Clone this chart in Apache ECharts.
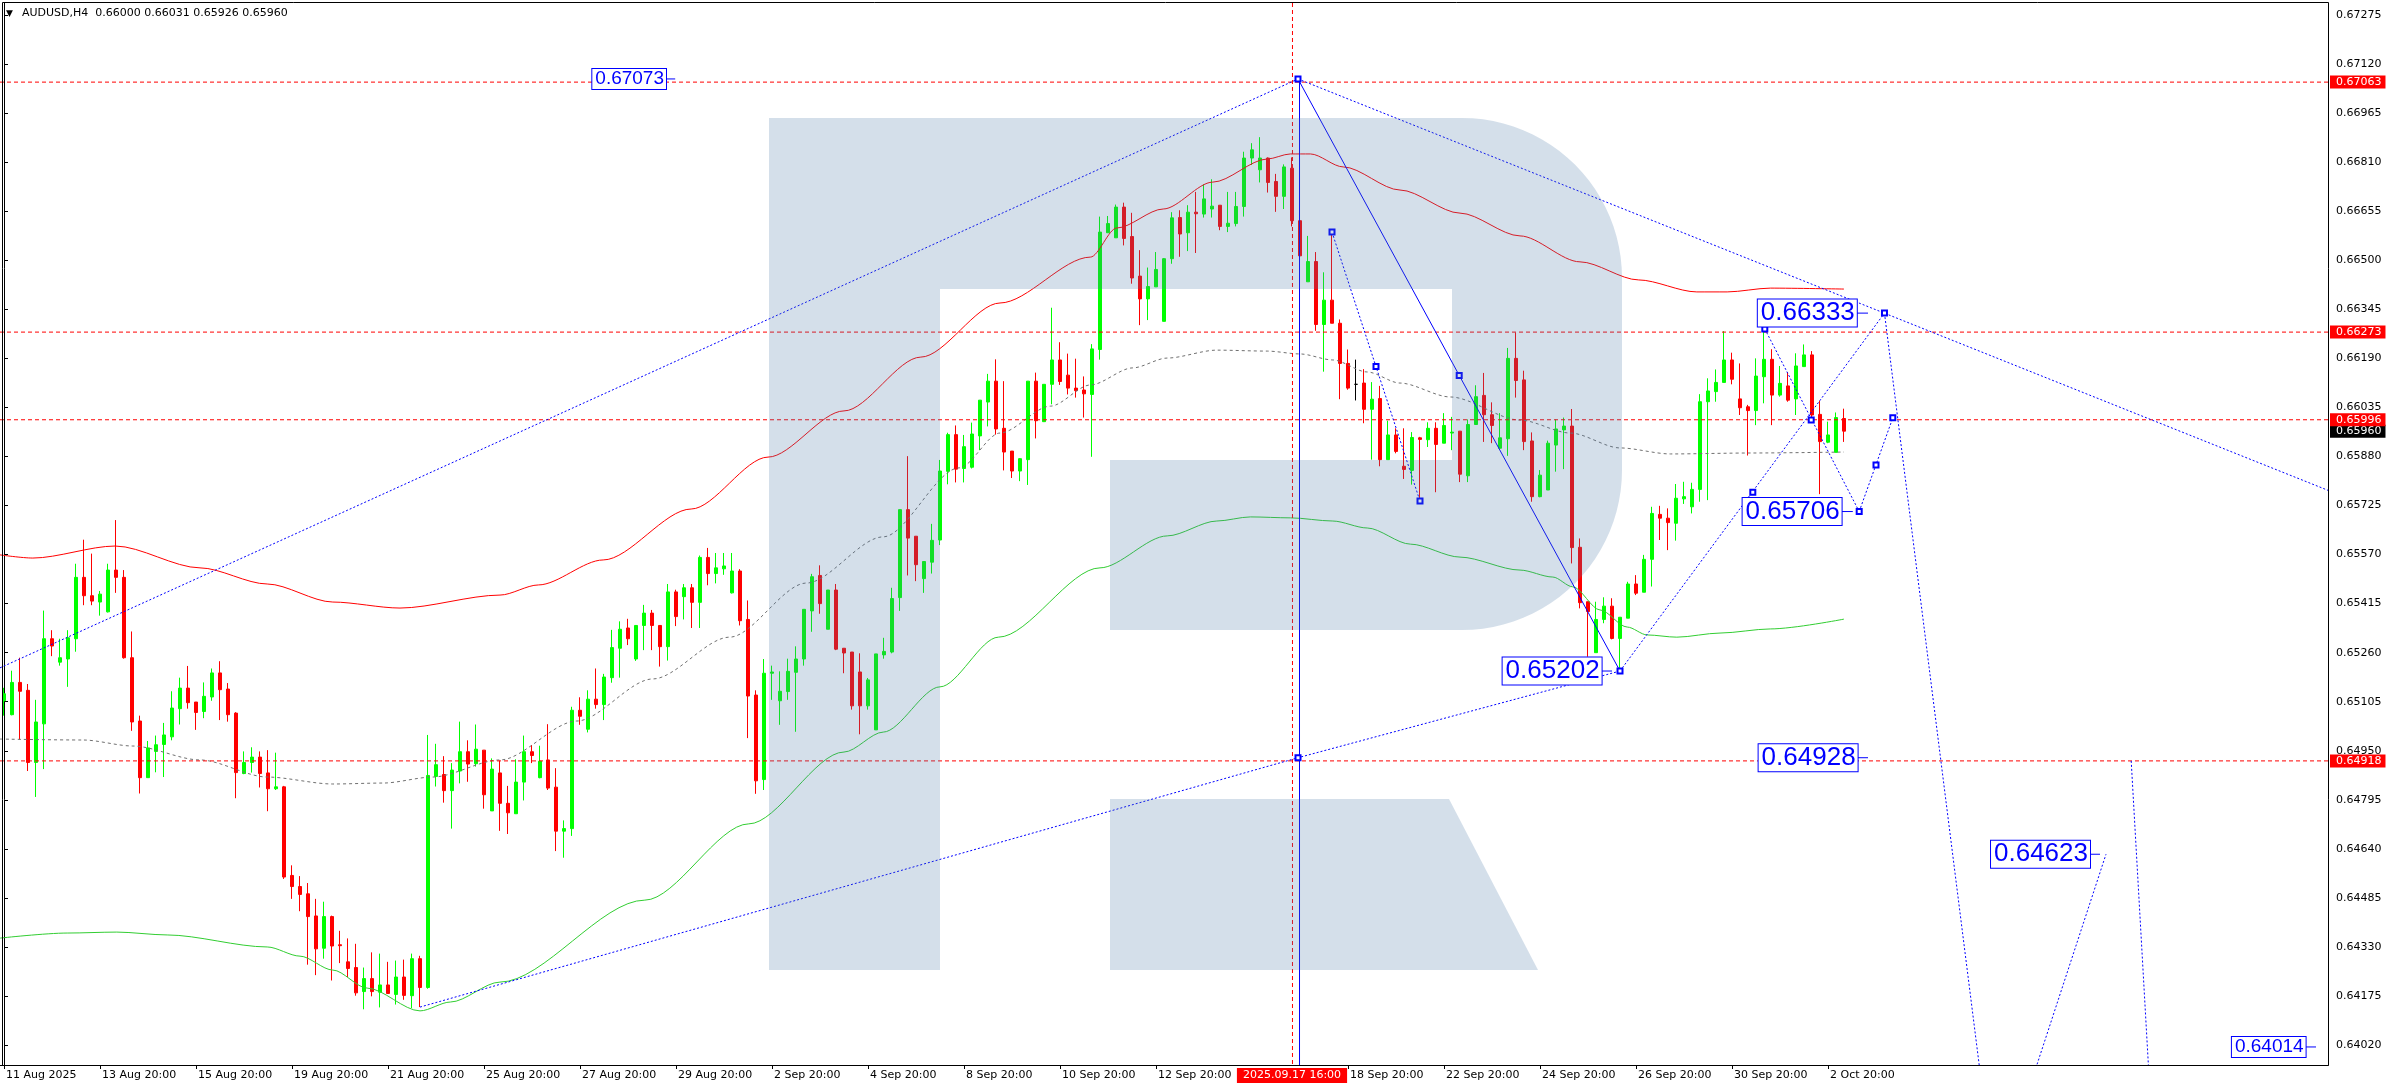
<!DOCTYPE html>
<html><head><meta charset="utf-8">
<script src="https://cdn.jsdelivr.net/npm/echarts@6/dist/echarts.min.js"></script>
<style>html,body{margin:0;padding:0;background:#fff;}#c{width:2392px;height:1090px;}</style>
</head><body><div id="c"></div>
<script>
// ---------- DATA ----------
const symbolTitle = 'AUDUSD,H4';
const headerValues = ['0.66000', '0.66031', '0.65926', '0.65960'];
// [open, close, low, high] per H4 bar, from 11 Aug 2025 20:00
const ohlc = [
[0.65108,0.65130,0.65061,0.65149],[0.65064,0.65166,0.65062,0.65203],[0.65166,0.65138,0.64985,0.65244],[0.65141,0.64913,0.64886,0.65161],
[0.64913,0.65041,0.64804,0.65111],[0.65035,0.65304,0.64892,0.65393],[0.65304,0.65281,0.65249,0.65331],[0.65230,0.65244,0.65219,0.65304],
[0.65240,0.65307,0.65152,0.65331],[0.65304,0.65498,0.65263,0.65541],[0.65498,0.65440,0.65410,0.65617],[0.65440,0.65423,0.65410,0.65573],
[0.65420,0.65445,0.65377,0.65455],[0.65389,0.65521,0.65387,0.65541],[0.65521,0.65498,0.65449,0.65679],[0.65498,0.65244,0.65241,0.65521],
[0.65244,0.65041,0.65013,0.65327],[0.65044,0.64865,0.64815,0.65061],[0.64865,0.64959,0.64865,0.64981],[0.64948,0.64969,0.64882,0.64998],
[0.64970,0.65000,0.64867,0.65038],[0.64994,0.65085,0.64983,0.65138],[0.65083,0.65148,0.65033,0.65181],[0.65148,0.65102,0.65083,0.65218],
[0.65104,0.65071,0.65016,0.65104],[0.65074,0.65122,0.65053,0.65166],[0.65120,0.65196,0.65108,0.65210],[0.65196,0.65143,0.65047,0.65233],
[0.65145,0.65064,0.65042,0.65164],[0.65069,0.64881,0.64800,0.65072],[0.64878,0.64913,0.64876,0.64948],[0.64913,0.64930,0.64881,0.64961],
[0.64930,0.64878,0.64834,0.64948],[0.64880,0.64830,0.64759,0.64952],[0.64830,0.64836,0.64826,0.64944],[0.64836,0.64551,0.64545,0.64839],
[0.64556,0.64521,0.64482,0.64588],[0.64521,0.64496,0.64443,0.64554],[0.64498,0.64426,0.64274,0.64532],[0.64428,0.64324,0.64241,0.64482],
[0.64326,0.64426,0.64293,0.64473],[0.64426,0.64333,0.64224,0.64429],[0.64337,0.64334,0.64279,0.64381],[0.64283,0.64262,0.64235,0.64357],
[0.64265,0.64185,0.64176,0.64340],[0.64189,0.64230,0.64133,0.64265],[0.64230,0.64189,0.64174,0.64313],[0.64187,0.64210,0.64139,0.64309],
[0.64210,0.64183,0.64183,0.64283],[0.64180,0.64235,0.64148,0.64287],[0.64235,0.64177,0.64163,0.64290],[0.64176,0.64293,0.64137,0.64309],
[0.64293,0.64202,0.64140,0.64302],[0.64202,0.64872,0.64198,0.65000],[0.64869,0.64906,0.64837,0.64972],[0.64875,0.64824,0.64786,0.64933],
[0.64824,0.64889,0.64704,0.64911],[0.64886,0.64947,0.64847,0.65042],[0.64947,0.64908,0.64852,0.64983],[0.64909,0.64955,0.64900,0.65033],
[0.64952,0.64811,0.64767,0.64952],[0.64760,0.64892,0.64760,0.64926],[0.64880,0.64784,0.64697,0.64919],[0.64784,0.64754,0.64687,0.64839],
[0.64751,0.64851,0.64751,0.64923],[0.64851,0.64947,0.64793,0.64998],[0.64947,0.64935,0.64911,0.64968],[0.64865,0.64917,0.64863,0.64966],
[0.64921,0.64832,0.64826,0.65034],[0.64835,0.64696,0.64633,0.64895],[0.64696,0.64704,0.64612,0.64730],[0.64704,0.65078,0.64681,0.65089],
[0.65078,0.65059,0.65032,0.65119],[0.65018,0.65113,0.65008,0.65141],[0.65113,0.65096,0.65083,0.65210],[0.65096,0.65183,0.65047,0.65193],
[0.65181,0.65276,0.65165,0.65332],[0.65274,0.65334,0.65181,0.65359],[0.65338,0.65304,0.65284,0.65367],[0.65240,0.65346,0.65234,0.65346],
[0.65346,0.65385,0.65268,0.65411],[0.65385,0.65346,0.65268,0.65395],[0.65346,0.65279,0.65216,0.65346],[0.65279,0.65452,0.65235,0.65477],
[0.65452,0.65374,0.65344,0.65459],[0.65437,0.65465,0.65365,0.65477],[0.65465,0.65419,0.65338,0.65477],[0.65419,0.65561,0.65338,0.65567],
[0.65561,0.65510,0.65473,0.65591],[0.65510,0.65528,0.65479,0.65575],[0.65525,0.65534,0.65506,0.65575],[0.65449,0.65518,0.65447,0.65575],
[0.65518,0.65361,0.65346,0.65524],[0.65365,0.65123,0.64990,0.65425],[0.65126,0.64855,0.64814,0.65141],[0.64859,0.65195,0.64826,0.65240],
[0.65195,0.65199,0.65111,0.65219],[0.65108,0.65138,0.65032,0.65201],[0.65137,0.65201,0.65111,0.65241],[0.65198,0.65240,0.65010,0.65280],
[0.65240,0.65397,0.65219,0.65397],[0.65392,0.65500,0.65326,0.65509],[0.65504,0.65415,0.65383,0.65536],[0.65334,0.65458,0.65334,0.65458],
[0.65458,0.65271,0.65268,0.65477],[0.65274,0.65259,0.65195,0.65274],[0.65262,0.65092,0.65080,0.65262],[0.65199,0.65092,0.65002,0.65258],
[0.65092,0.65174,0.65080,0.65180],[0.65016,0.65256,0.65016,0.65256],[0.65253,0.65264,0.65241,0.65307],[0.65262,0.65431,0.65258,0.65465],
[0.65434,0.65712,0.65392,0.65712],[0.65712,0.65622,0.65504,0.65881],[0.65628,0.65538,0.65486,0.65628],[0.65494,0.65548,0.65449,0.65548],
[0.65546,0.65615,0.65510,0.65667],[0.65616,0.65834,0.65600,0.65869],[0.65833,0.65949,0.65792,0.65955],[0.65949,0.65840,0.65798,0.65978],
[0.65842,0.65911,0.65798,0.65948],[0.65846,0.65951,0.65842,0.65987],[0.65945,0.66058,0.65900,0.66058],[0.66052,0.66118,0.65975,0.66141],
[0.66118,0.65967,0.65949,0.66187],[0.65969,0.65894,0.65836,0.66118],[0.65897,0.65834,0.65812,0.65897],[0.65834,0.65873,0.65802,0.65875],
[0.65870,0.66118,0.65790,0.66118],[0.66118,0.65993,0.65937,0.66145],[0.65990,0.66108,0.65990,0.66108],[0.66108,0.66185,0.66045,0.66350],
[0.66185,0.66117,0.66106,0.66241],[0.66137,0.66096,0.66076,0.66205],[0.66096,0.66088,0.66066,0.66189],[0.66090,0.66078,0.66003,0.66133],
[0.66076,0.66220,0.65879,0.66235],[0.66218,0.66589,0.66186,0.66638],[0.66587,0.66616,0.66587,0.66640],[0.66571,0.66668,0.66571,0.66676],
[0.66668,0.66569,0.66547,0.66682],[0.66575,0.66444,0.66426,0.66650],[0.66450,0.66378,0.66295,0.66532],[0.66378,0.66417,0.66311,0.66477],
[0.66416,0.66471,0.66416,0.66526],[0.66307,0.66505,0.66307,0.66507],[0.66505,0.66634,0.66489,0.66652],[0.66635,0.66583,0.66511,0.66658],
[0.66587,0.66652,0.66529,0.66674],[0.66652,0.66647,0.66523,0.66716],[0.66646,0.66694,0.66635,0.66740],[0.66662,0.66671,0.66635,0.66756],
[0.66674,0.66607,0.66595,0.66674],[0.66607,0.66617,0.66589,0.66716],[0.66616,0.66670,0.66607,0.66716],[0.66670,0.66823,0.66638,0.66843],
[0.66823,0.66849,0.66801,0.66870],[0.66786,0.66823,0.66746,0.66889],[0.66823,0.66746,0.66714,0.66825],[0.66749,0.66702,0.66653,0.66773],
[0.66702,0.66795,0.66662,0.66803],[0.66791,0.66625,0.66607,0.66825],[0.66625,0.66514,0.66514,0.66629],[0.66432,0.66496,0.66432,0.66577],
[0.66496,0.66297,0.66277,0.66526],[0.66297,0.66374,0.66148,0.66462],[0.66374,0.66301,0.66301,0.66587],[0.66301,0.66174,0.66061,0.66313],
[0.66174,0.66096,0.66091,0.66218],[0.66108,0.66108,0.66057,0.66186],[0.66112,0.66029,0.65985,0.66156],[0.66029,0.66061,0.65870,0.66115],
[0.66063,0.65870,0.65849,0.66103],[0.65870,0.65948,0.65870,0.65993],[0.65948,0.65896,0.65890,0.65969],[0.65849,0.65839,0.65809,0.65969],
[0.65836,0.65940,0.65791,0.65957],[0.65939,0.65934,0.65737,0.65942],[0.65933,0.65969,0.65910,0.65988],[0.65969,0.65918,0.65767,0.65988],
[0.65922,0.65978,0.65922,0.66017],[0.65954,0.65957,0.65900,0.66005],[0.65960,0.65824,0.65799,0.65960],[0.65819,0.65981,0.65799,0.65997],
[0.65981,0.66069,0.65981,0.66105],[0.66073,0.66012,0.65926,0.66144],[0.66012,0.65978,0.65922,0.66051],[0.65906,0.65939,0.65906,0.66017],
[0.65936,0.66190,0.65882,0.66223],[0.66190,0.66120,0.66066,0.66272],[0.66122,0.65927,0.65900,0.66151],[0.65929,0.65753,0.65737,0.65956],
[0.65753,0.65821,0.65751,0.65837],[0.65774,0.65922,0.65774,0.65930],[0.65916,0.65967,0.65832,0.65997],[0.65964,0.65976,0.65840,0.66003],
[0.65976,0.65592,0.65542,0.66030],[0.65593,0.65418,0.65400,0.65621],[0.65421,0.65390,0.65247,0.65421],[0.65260,0.65365,0.65260,0.65421],
[0.65365,0.65407,0.65353,0.65435],[0.65407,0.65305,0.65302,0.65432],[0.65305,0.65372,0.65205,0.65372],[0.65369,0.65477,0.65369,0.65484],
[0.65477,0.65448,0.65442,0.65505],[0.65451,0.65555,0.65451,0.65569],[0.65555,0.65700,0.65469,0.65721],[0.65697,0.65685,0.65616,0.65724],
[0.65685,0.65671,0.65584,0.65716],[0.65669,0.65748,0.65614,0.65793],[0.65746,0.65753,0.65730,0.65800],[0.65721,0.65776,0.65700,0.65797],
[0.65776,0.66053,0.65737,0.66077],[0.66053,0.66087,0.65742,0.66127],[0.66085,0.66114,0.66053,0.66155],[0.66114,0.66185,0.66114,0.66276],
[0.66185,0.66124,0.66108,0.66208],[0.66062,0.66034,0.66011,0.66174],[0.66037,0.66025,0.65883,0.66043],[0.66025,0.66134,0.65979,0.66190],
[0.66132,0.66187,0.66048,0.66280],[0.66187,0.66074,0.65979,0.66219],[0.66074,0.66111,0.66069,0.66166],[0.66103,0.66058,0.66053,0.66146],
[0.66062,0.66166,0.66011,0.66206],[0.66164,0.66201,0.66164,0.66234],[0.66201,0.66011,0.66004,0.66213],[0.66013,0.65927,0.65761,0.66056],
[0.65925,0.65948,0.65922,0.65990],[0.65893,0.66003,0.65893,0.66019],[0.66000,0.65960,0.65926,0.66031]
];
const dojiBars = [169];
const timeLabels = ['11 Aug 2025','13 Aug 20:00','15 Aug 20:00','19 Aug 20:00','21 Aug 20:00','25 Aug 20:00','27 Aug 20:00',
  '29 Aug 20:00','2 Sep 20:00','4 Sep 20:00','8 Sep 20:00','10 Sep 20:00','12 Sep 20:00','16 Sep 20:00','18 Sep 20:00',
  '22 Sep 20:00','24 Sep 20:00','26 Sep 20:00','30 Sep 20:00','2 Oct 20:00'];
const barsPerLabel = 12;
const totalSlots = 291;
const cursorBar = 161;
const cursorLabel = '2025.09.17 16:00';
const priceTicks = [0.67275,0.67120,0.66965,0.66810,0.66655,0.66500,0.66345,0.66190,0.66035,0.65880,0.65725,
  0.65570,0.65415,0.65260,0.65105,0.64950,0.64795,0.64640,0.64485,0.64330,0.64175,0.64020];
const levelLines = [0.67063, 0.66273, 0.65996, 0.64918];
const lastPrice = 0.65960;
const Y_MIN = 0.63957, Y_MAX = 0.67313;
// indicator curves [bar, price]
const redCurve = [[-0.5,0.65569],[3.6,0.65559],[13.9,0.65597],[24.5,0.65528],[32.9,0.65477],[41.1,0.65420],[49.5,0.65401],
  [62,0.65442],[66.8,0.65474],[74.9,0.65553],[85.9,0.65714],[95.5,0.65878],[105,0.66024],[114.6,0.66194],[124.5,0.66365],
  [135.8,0.66510],[139.1,0.66602],[144.9,0.66662],[151.1,0.66747],[157.9,0.66820],[160.8,0.66836],[163.3,0.66836],
  [167.4,0.66795],[174.5,0.66722],[182,0.66649],[189.5,0.66577],[197,0.66495],[204.3,0.66438],[211.6,0.66400],
  [215.4,0.66400],[220.8,0.66412],[230,0.66409]];
const greenCurve = [[-0.5,0.64358],[7.9,0.64374],[14.1,0.64377],[20.4,0.64368],[32.9,0.64330],[37,0.64301],[41.1,0.64257],
  [45.4,0.64200],[52,0.64128],[55.8,0.64156],[62,0.64219],[80.1,0.64478],[93.1,0.64719],[105,0.64946],[109.9,0.65009],
  [117,0.65152],[124.3,0.65309],[137,0.65528],[145.4,0.65629],[151.6,0.65676],[155.8,0.65689],[160.8,0.65686],
  [166.1,0.65676],[170.4,0.65654],[175.8,0.65603],[182,0.65562],[189.5,0.65521],[193.6,0.65499],[196.1,0.65468],
  [199.5,0.65395],[202.9,0.65341],[205.4,0.65316],[209.1,0.65309],[214.5,0.65322],[220.8,0.65335],[230,0.65366]];
const greyCurve = [[-0.5,0.64987],[9.9,0.64984],[16.1,0.64965],[24.5,0.64921],[32.9,0.64867],[41.1,0.64845],[47.4,0.64848],
  [53.6,0.64867],[62,0.64921],[71.6,0.65044],[81.1,0.65177],[90.7,0.65309],[100.3,0.65480],[109.9,0.65626],[119.4,0.65844],
  [124.5,0.65954],[130.8,0.66039],[135.8,0.66106],[141.1,0.66160],[145.4,0.66191],[151.6,0.66216],[157.9,0.66213],
  [162,0.66204],[166.1,0.66185],[170.4,0.66147],[174.5,0.66112],[180.8,0.66068],[189.5,0.65995],[195.8,0.65954],
  [202,0.65907],[208.3,0.65888],[218.6,0.65891],[230,0.65894]];
// drawn analysis lines [bar, price]
const peakBar = 161.94;
const cursorLineBar = 161.06;
const trendUpper = [[-0.5,0.65212],[161.75,0.67073]];
const trendLower = [[52,0.64140],[161.75,0.64928],[202,0.65202]];
const trendDown = [[161.75,0.67073],[290.5,0.65773]];
const swingSolid = [[161.75,0.67073],[202,0.65202]];
const swingSmall = [[166,0.66589],[177,0.65739]];
const fcUp = [[202,0.65202],[235.06,0.66333]];
const fcA = [[220.1,0.66283],[231.9,0.65706]];
const fcB = [[231.9,0.65706],[236.1,0.66002]];
const fcDrop = [[235.06,0.66333],[248.9,0.63556],[262.75,0.64623]];
const fcDrop2 = [[265.9,0.64918],[268.4,0.63800]];
const nodes = [[161.75,0.67073],[161.75,0.64928],[181.9,0.66136],[166,0.66589],[171.5,0.66164],[177,0.65739],
  [202,0.65202],[218.6,0.65767],[235.06,0.66333],[220.1,0.66283],[225.9,0.65995],[231.9,0.65706],[234,0.65853],[236.1,0.66002]];
const priceLabels = [0.67073, 0.66333, 0.65706, 0.65202, 0.64928, 0.64623, 0.64014];
const labelBoxRight = [82.75, 231.6, 229.7, 199.7, 231.7, 260.75, 287.7];
const labelTip = [83.9, 233.0, 231.1, 201.0, 233.0, 262.0, 289.0];

// ---------- BUILD ----------
const FONT = 'DejaVu Sans';
const cats = [];
for (let i = 0; i < totalSlots; i++) cats.push('');
timeLabels.forEach((t, k) => {
  const idx = k * barsPerLabel;
  const covered = idx >= cursorBar - 7 && idx < cursorBar + 7;
  if (!covered) cats[idx] = t;
});
const showIdx = (i) => cats[i] !== '';

const candleData = ohlc.map((d, i) => dojiBars.includes(i)
  ? {value: d, itemStyle: {color: '#000', color0: '#000', borderColor: '#000', borderColor0: '#000'}}
  : d);

const lineSeries = (data, color, type, opts) => Object.assign({
  type: 'line', xAxisIndex: 1, yAxisIndex: 0, data: data, symbol: 'none', silent: true,
  lineStyle: {color: color, width: 1, type: type, opacity: 1}, z: 3, animation: false
}, opts || {});

const series = [
  {type: 'candlestick', xAxisIndex: 0, yAxisIndex: 0, data: candleData, barWidth: 4, silent: true, z: 2,
   itemStyle: {color: '#00ff00', color0: '#ff0000', borderColor: '#00ff00', borderColor0: '#ff0000', borderWidth: 1}},
  lineSeries(redCurve, '#ff0000', 'solid', {smooth: 0.3, smoothMonotone: 'x'}),
  lineSeries(greenCurve, '#32cd32', 'solid', {smooth: 0.3, smoothMonotone: 'x'}),
  lineSeries(greyCurve, '#707070', [3, 3], {smooth: 0.3, smoothMonotone: 'x'})
];
levelLines.forEach(p => series.push(lineSeries([[-0.5, p], [totalSlots - 0.5, p]], '#ff0000', [4, 3])));
series.push(lineSeries([[cursorLineBar, Y_MAX], [cursorLineBar, Y_MIN]], '#ff0000', [4, 3]));
series.push(lineSeries([[peakBar, 0.67073], [peakBar, Y_MIN]], '#0000ff', 'solid'));
[trendUpper, trendLower, trendDown, swingSmall, fcUp, fcA, fcB, fcDrop, fcDrop2].forEach(d =>
  series.push(lineSeries(d, '#0000ff', [2, 2])));
series.push(lineSeries(swingSolid, '#0000ff', 'solid'));
priceLabels.forEach((p, i) => series.push(lineSeries([[labelBoxRight[i], p], [labelTip[i], p]], '#0000ff', 'solid')));
series.push({type: 'scatter', xAxisIndex: 1, yAxisIndex: 0, data: nodes, symbol: 'emptyRect', symbolSize: 5,
  itemStyle: {color: '#0000ff', borderWidth: 1, opacity: 1}, silent: true, z: 4});
series.push({type: 'scatter', xAxisIndex: 1, yAxisIndex: 0, symbolSize: 0, silent: true, z: 5,
  itemStyle: {opacity: 1},
  data: priceLabels.map((p, i) => ({value: [labelBoxRight[i], p],
    label: {fontSize: (i === 0 || i === priceLabels.length - 1) ? 19 : 26}})),
  label: {show: true, position: 'left', distance: 0, formatter: (pr) => pr.value[1].toFixed(5), opacity: 1,
    color: '#0000ff', fontFamily: 'Liberation Sans', borderColor: '#0000ff', borderWidth: 1,
    backgroundColor: '#ffffff', padding: [1, 2, 0, 3]}});

// watermark logo (decoration)
function arcPts(cx, cy, r, a0, a1, n) {
  const pts = [];
  for (let k = 0; k <= n; k++) { const a = a0 + (a1 - a0) * k / n; pts.push([cx + r * Math.cos(a), cy + r * Math.sin(a)]); }
  return pts;
}
const logoMain = [[769,118]].concat(arcPts(1462,278,160,-Math.PI/2,0,24), arcPts(1462,470,160,0,Math.PI/2,24),
  [[1110,630],[1110,460],[1452,460],[1452,289],[940,289],[940,970],[769,970]]);
const logoLeg = [[1110,799],[1449,799],[1538,970],[1110,970]];
const shade = 'rgba(76,122,168,0.24)';

const chart = echarts.init(document.getElementById('c'), null, {renderer: 'canvas'});
chart.setOption({
  animation: false,
  backgroundColor: '#ffffff',
  grid: {left: 0, top: 3, width: 2328, height: 1062, containLabel: false, outerBoundsMode: 'none', show: false},
  xAxis: [
    {type: 'category', data: cats, position: 'bottom', boundaryGap: true,
     axisLine: {show: true, lineStyle: {color: '#000', width: 1}},
     axisTick: {show: true, alignWithLabel: true, interval: showIdx, length: 4, lineStyle: {color: '#000'}},
     axisLabel: {interval: showIdx, align: 'left', color: '#000', fontFamily: FONT, fontSize: 11, margin: 5, padding: [0,0,0,2], hideOverlap: false},
     splitLine: {show: false}},
    {type: 'value', min: -0.5, max: totalSlots - 0.5, position: 'bottom', z: 10,
     axisLine: {show: false}, axisTick: {show: false}, splitLine: {show: false},
     axisLabel: {customValues: [cursorBar], formatter: () => cursorLabel, color: '#ffffff', backgroundColor: '#ff0000',
       padding: [2, 6, 2, 6], fontFamily: FONT, fontSize: 11, margin: 3, hideOverlap: false}}
  ],
  yAxis: [
    {type: 'value', position: 'right', min: Y_MIN, max: Y_MAX, splitLine: {show: false},
     axisLine: {show: true, lineStyle: {color: '#000'}},
     axisTick: {show: true, customValues: priceTicks, length: 4, lineStyle: {color: '#000'}},
     axisLabel: {customValues: priceTicks, formatter: v => v.toFixed(5), color: '#000', fontFamily: FONT, fontSize: 11, margin: 8, hideOverlap: false}},
    {type: 'value', position: 'right', min: Y_MIN, max: Y_MAX, splitLine: {show: false}, z: 10,
     axisLine: {show: false}, axisTick: {show: false},
     axisLabel: {customValues: [lastPrice].concat(levelLines), hideOverlap: false, margin: 2,
       formatter: v => (v === lastPrice ? '{b|' : '{r|') + v.toFixed(5) + '}',
       rich: {
         r: {backgroundColor: '#ff0000', color: '#ffffff', fontFamily: FONT, fontSize: 11, padding: [1, 4, 1, 6]},
         b: {backgroundColor: '#000000', color: '#ffffff', fontFamily: FONT, fontSize: 11, padding: [1, 4, 1, 6]}
       }}}
  ],
  series: series,
  graphic: [
    {type: 'polygon', shape: {points: logoMain}, style: {fill: shade}, z: 100, silent: true},
    {type: 'polygon', shape: {points: logoLeg}, style: {fill: shade}, z: 100, silent: true},
    {type: 'rect', shape: {x: 2.5, y: 2.5, width: 2326, height: 1063}, style: {fill: 'none', stroke: '#000', lineWidth: 1}, z: 200, silent: true},
    {type: 'text', x: 6, y: 13.5, style: {text: '\u25BC', fill: '#000', font: '9px "DejaVu Sans"', textVerticalAlign: 'middle'}, z: 200},
    {type: 'text', x: 22, y: 13.5, style: {text: symbolTitle + '  ' + headerValues.join(' '), fill: '#000', font: '11px "DejaVu Sans"', textVerticalAlign: 'middle'}, z: 200}
  ]
});
</script></body></html>
